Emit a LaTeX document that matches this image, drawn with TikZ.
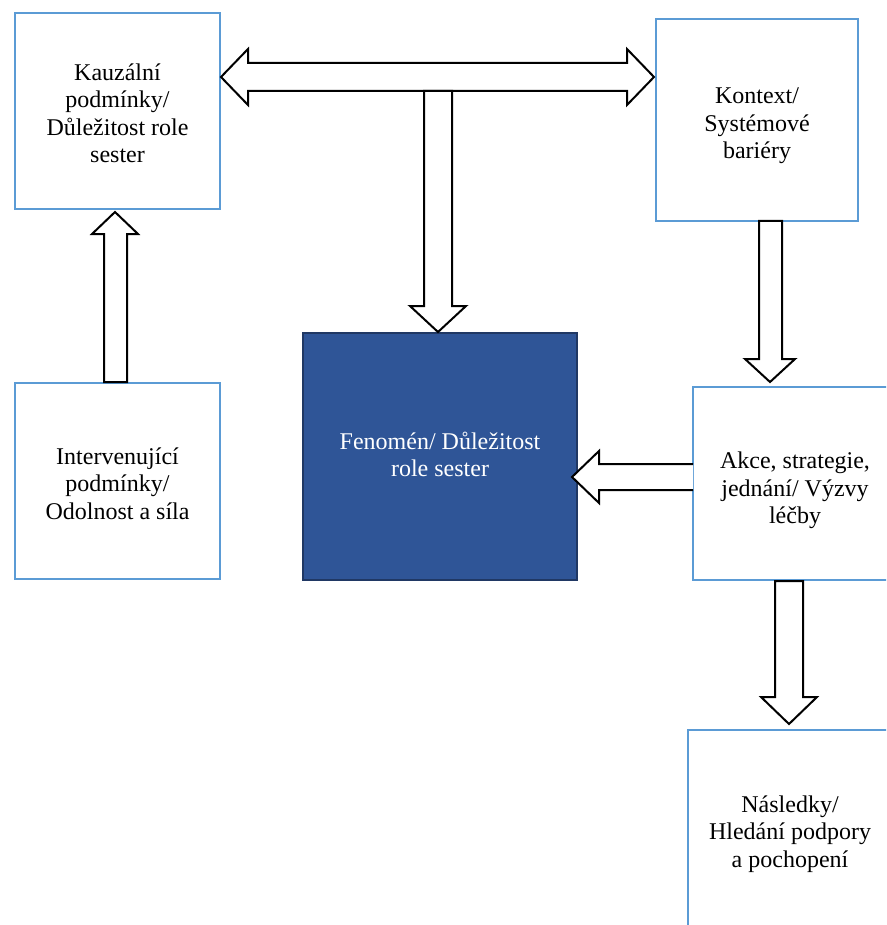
\documentclass[tikz,border=0pt]{standalone}
\usepackage{fontspec}
\setmainfont{Liberation Serif}
\definecolor{boxblue}{HTML}{5B9BD5}
\definecolor{phen}{HTML}{2F5597}
\definecolor{phenedge}{HTML}{203864}
\newcommand{\boxtext}[2]{\raisebox{-#1}[\height][\depth]{\begin{tabular}{@{}c@{}}#2\end{tabular}}}
\begin{document}
\begin{tikzpicture}[x=1pt,y=-1pt,
  box/.style={draw=boxblue, line width=2pt, fill=white, align=center, inner sep=0pt,
    font=\fontsize{24}{27.5}\selectfont},
  phenbox/.style={draw=phenedge, line width=1.5pt, fill=phen, text=white, align=center, inner sep=0pt,
    font=\fontsize{24}{27.5}\selectfont},
  barrow/.style={draw=black, line width=2pt, fill=white, line join=miter}]
\useasboundingbox (0,0) rectangle (886,925);
\clip (0,0) rectangle (886,925);
\fill[white] (0,0) rectangle (886,925);

\node[box, minimum width=205pt, minimum height=196pt] (kauz) at (117.5,111)
  {\boxtext{5pt}{Kauzální\\podmínky/\\Důležitost role\\sester}};
\node[box, minimum width=202pt, minimum height=202pt] (kon) at (757,120)
  {\boxtext{6pt}{Kontext/\\Systémové\\bariéry}};
\node[box, minimum width=205pt, minimum height=196pt] (interv) at (117.5,481)
  {\boxtext{5pt}{Intervenující\\podmínky/\\Odolnost a síla}};
\node[phenbox, minimum width=274pt, minimum height=247pt] (phen) at (440,456.5)
  {\boxtext{1pt}{Fenomén/ Důležitost\\role sester}};
\node[box, minimum width=204pt, minimum height=193pt] (akce) at (795,483.5)
  {\boxtext{7pt}{Akce, strategie,\\jednání/ Výzvy\\léčby}};
\node[box, minimum width=204pt, minimum height=200pt] (nasl) at (790,830)
  {\boxtext{4pt}{Následky/\\Hledání podpory\\a pochopení}};

% double arrow kauz <-> kon
\draw[barrow] (221,77) -- (248,49) -- (248,63) -- (627,63) -- (627,49) -- (654,77)
  -- (627,105) -- (627,91) -- (248,91) -- (248,105) -- cycle;
% down arrow to phenomenon
\draw[barrow] (424,91) -- (424,306) -- (410,306) -- (438,332) -- (466,306) -- (452,306) -- (452,91) -- cycle;
% kontext -> akce
\draw[barrow] (759,221) -- (759,359) -- (745,359) -- (770,382) -- (795,359) -- (782,359) -- (782,221) -- cycle;
% akce -> phenomenon
\filldraw[barrow] (693,464) -- (599,464) -- (599,451) -- (572,477) -- (599,503) -- (599,490) -- (693,490);
% interv -> kauz
\draw[barrow] (104,382) -- (104,234) -- (92,234) -- (115,212) -- (138,234) -- (127,234) -- (127,382) -- cycle;
% akce -> nasl
\draw[barrow] (775,581) -- (775,697) -- (761,697) -- (789,724) -- (817,697) -- (803,697) -- (803,581) -- cycle;
\end{tikzpicture}
\end{document}
